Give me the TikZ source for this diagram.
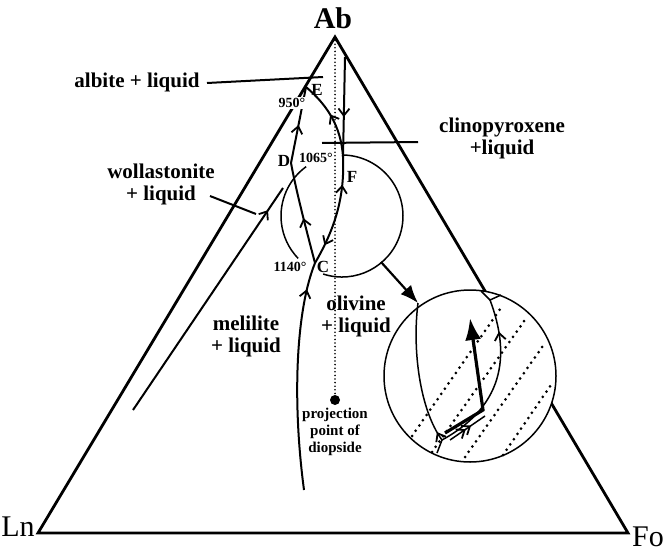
\documentclass[tikz,border=0pt]{standalone}
\usepackage{fontspec}
\setmainfont{Liberation Serif}
\usetikzlibrary{arrows.meta,decorations.markings}
\tikzset{
  edge/.style ={draw=black, line width=1.4pt, line join=miter},
  bnd/.style  ={draw=black, line width=1pt},
  thn/.style  ={draw=black, line width=0.75pt},
  dots/.style ={draw=black, line width=1.5pt, dash pattern=on 0pt off 3.2pt, line cap=round},
  lbl/.style  ={font=\fontsize{10.5}{11}\selectfont\bfseries, inner sep=0pt, align=center},
  ptl/.style  ={font=\fontsize{8.5}{9}\selectfont\bfseries, inner sep=0.5pt},
  degl/.style ={font=\fontsize{7}{8}\selectfont\bfseries, inner sep=0.5pt, fill=white},
  vtx/.style  ={font=\fontsize{15}{15}\selectfont, inner sep=0pt},
  barb/.style ={postaction={decorate, decoration={markings,
      mark=at position #1 with {\arrow{Straight Barb[length=3.5pt,width=5.5pt,line width=0.9pt]}}}}},
  rbarb/.style={postaction={decorate, decoration={markings,
      mark=at position #1 with {\arrowreversed{Straight Barb[length=3.5pt,width=5.5pt,line width=0.9pt]}}}}},
}
\begin{document}
\begin{tikzpicture}[x=0.5pt,y=-0.5pt]
  \useasboundingbox (0,0) rectangle (663,551);
  % corners and invariant points
  \coordinate (Ab) at (335,37);
  \coordinate (Ln) at (38,533);
  \coordinate (Fo) at (628,533);
  \coordinate (E) at (306,87);
  \coordinate (D) at (291,163);
  \coordinate (F) at (343,157);
  \coordinate (C) at (315,263);
  \coordinate (Di) at (335,400);
  % triangle
  \draw[edge] (Ln) -- (Ab) -- (Fo) -- cycle;
  % projection line
  \draw[dots,line width=0.9pt,dash pattern=on 0pt off 1.8pt] (Ab) -- (Di);
  \fill (Di) circle[radius=5];
  % boundary curves
  \draw[bnd,barb=0.88] (304,490) .. controls (292,400) and (296,310) .. (C);
  \draw[bnd,barb=0.45] (C) .. controls (305,225) and (296,190) .. (D);
  \draw[bnd,barb=0.5] (D) -- (E);
  \draw[bnd,barb=0.6] (345,57) -- (F);
  \draw[bnd,barb=0.55] (F) .. controls (341,125) and (326,104) .. (E);
  \draw[bnd,rbarb=0.25,barb=0.82] (F) .. controls (345,200) and (333,232) .. (C);
  \draw[bnd,barb=0.9] (133,410) -- (283,188);
  % field circle
  \draw[thn] (342,216) ++(-126:61) arc[start angle=-126, end angle=-224, radius=61];
  \draw[thn] (342,216) ++(-252:61) arc[start angle=-252, end angle=-450, radius=61];
  \draw[line width=1.1pt,-{Latex[length=9pt,width=7pt]}] (381,262) -- (418,303);
  % enlarged view
  \filldraw[thn,fill=white] (470,376) circle[radius=86];
  \draw[dots] (412,436) -- (503,305);
  \draw[dots] (432,452) -- (527,317);
  \draw[dots] (465,457) -- (545,343);
  \draw[dots] (503,455) -- (553,382);
  \coordinate (J) at (490,300);
  \coordinate (K) at (442,440);
  \draw[thn] (481,291) -- (J) -- (501,295);
  \draw[thn,barb=0.15] (437,453) -- (K) .. controls (420,410) and (412,350) .. (418,303);
  \draw[thn,rbarb=0.2] (J) .. controls (505,340) and (515,400) .. (K);
  \draw[line width=1.6pt,-{Latex[length=11pt,width=8pt]}] (445,433) -- (483,410) -- (470,318);
  \draw[thn,barb=0.45,barb=0.6] (450,440) -- (485,416);
  % labels
  \node[vtx,font=\fontsize{15}{15}\selectfont\bfseries] (ablbl) at (333,18) {Ab};
  \node[vtx] (lnlbl) at (18,527) {Ln};
  \node[vtx] (folbl) at (648,537) {Fo};
  \node[ptl] (elbl) at (317,90) {E};
  \node[ptl] (dlbl) at (284,161) {D};
  \node[ptl] (flbl) at (352,177) {F};
  \node[ptl] (clbl) at (323,267) {C};
  \node[degl] (t950) at (292,103) {950°};
  \node[degl] (t1065) at (316,158) {1065°};
  \node[degl] (t1140) at (290,267) {1140°};
  \node[lbl] (ablq) at (137,82) {albite + liquid};
  \draw[thn,line width=1pt] (207,83) -- (323,77);
  \node[lbl] (wolq) at (161,184) {wollastonite\\+ liquid};
  \draw[thn,line width=1pt] (210,196) -- (256,214);
  \node[lbl] (cpxq) at (502,138) {clinopyroxene\\+liquid};
  \draw[thn,line width=1pt] (322,143) -- (418,142);
  \node[lbl] (melq) at (246,336) {melilite\\+ liquid};
  \node[lbl] (olq) at (356,316) {olivine\\+ liquid};
  \node[font=\fontsize{7.5}{8.5}\selectfont\bfseries, align=center, inner sep=0pt, below] (dilbl) at (335,408) {projection\\point of\\diopside};
\end{tikzpicture}
\end{document}
